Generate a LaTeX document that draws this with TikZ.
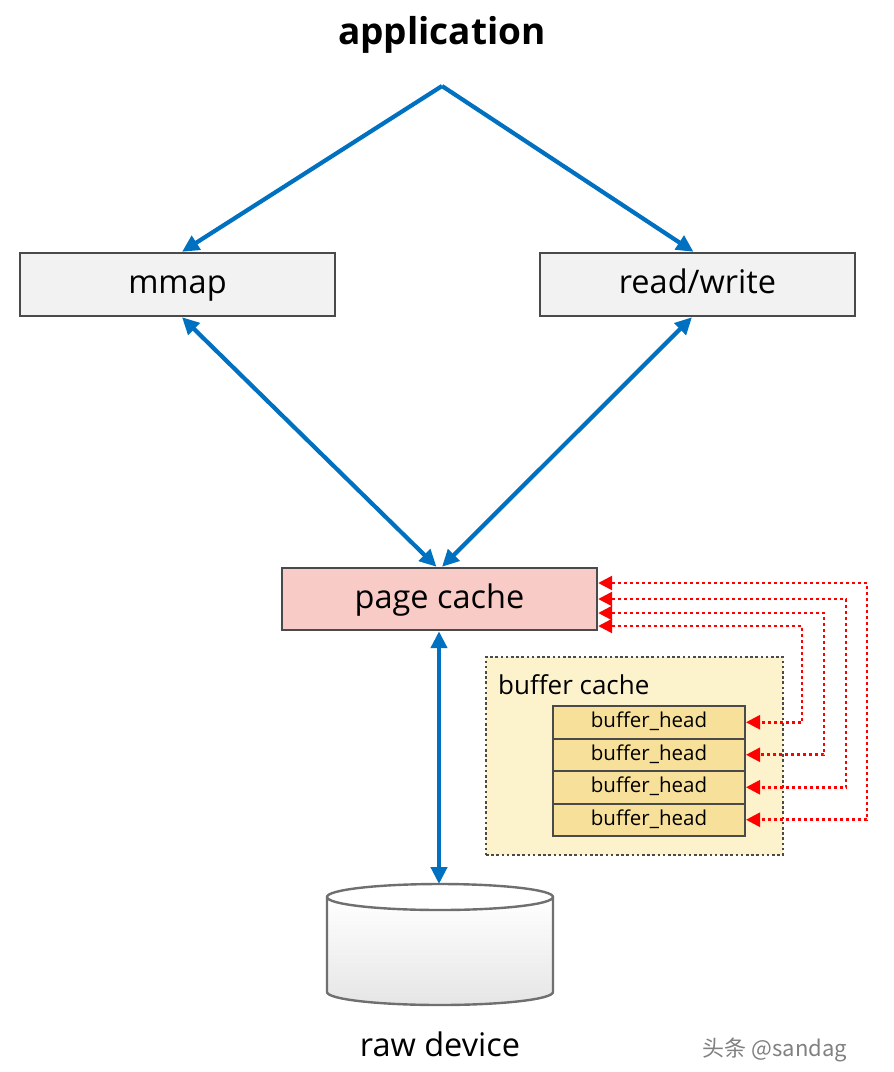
\documentclass[tikz,border=0pt]{standalone}
\usepackage{fontspec}
\setmainfont{Open Sans}
\newfontfamily\cjk{Noto Sans CJK SC}
\usetikzlibrary{arrows.meta,calc}
\definecolor{arrblue}{HTML}{0070C0}
\definecolor{boxgray}{HTML}{F2F2F2}
\definecolor{boxline}{HTML}{4A4A4A}
\definecolor{pcfill}{HTML}{F8CBC7}
\definecolor{bcfill}{HTML}{FCF2CC}
\definecolor{bhfill}{HTML}{F7E09A}
\definecolor{cylline}{HTML}{6F6F6F}
\tikzset{
  plainbox/.style={draw=boxline, line width=2.4pt, fill=boxgray, minimum width=315pt, minimum height=63pt, inner sep=0pt, font=\fontsize{32.5}{36}\selectfont, text height=24pt, text depth=6pt},
  bharrow/.style={line width=4.2pt, draw=arrblue, {Triangle[length=17pt,width=16pt]}-{Triangle[length=17pt,width=16pt]}},
  oneway/.style={line width=4.2pt, draw=arrblue, -{Triangle[length=17pt,width=16pt]}},
  headbox/.style={draw=boxline, line width=2pt, fill=bhfill, minimum width=192pt, minimum height=32.5pt, inner sep=0pt, font=\fontsize{20.5}{23}\selectfont, text height=15pt, text depth=4pt},
  redlink/.style={draw=red, line width=2.6pt, dash pattern=on 3pt off 3pt, {Triangle[length=14pt,width=14pt]}-{Triangle[length=14pt,width=14pt]}},
}
\begin{document}
\begin{tikzpicture}[x=1pt,y=-1pt]
\useasboundingbox (0,0) rectangle (894,1072);
\node[font=\bfseries\fontsize{37}{40}\selectfont] (app) at (442,35) {application};
\coordinate (apex) at (442,86);
\node[plainbox] (mmap) at (177.5,284.5) {mmap};
\node[plainbox] (rw) at (697.5,284.5) {read/write};
\node[plainbox, fill=pcfill, minimum height=62pt] (pc) at (439.5,599) {page cache};
% buffer cache
\node[draw=boxline, line width=2.6pt, dash pattern=on 2.6pt off 2.6pt, fill=bcfill, minimum width=297pt, minimum height=198pt, inner sep=0pt] (bc) at (634.5,756) {};
\node[anchor=west, font=\fontsize{26}{29}\selectfont, inner sep=0pt] (bclabel) at (498,685) {buffer cache};
\node[headbox] (bh1) at (649,722.25) {buffer\_head};
\node[headbox] (bh2) at (649,754.75) {buffer\_head};
\node[headbox] (bh3) at (649,787.25) {buffer\_head};
\node[headbox] (bh4) at (649,819.75) {buffer\_head};
% cylinder
\coordinate (cyltop) at (439,884);
\shade[top color=white, bottom color=black!10] (327,897) -- (327,992) arc[start angle=180,end angle=360,x radius=113,y radius=-13] -- (553,897) -- cycle;
\draw[cylline, line width=2.4pt] (327,897) -- (327,992) arc[start angle=180,end angle=360,x radius=113,y radius=-13] -- (553,897);
\draw[cylline, line width=2.4pt, fill=white] (440,897) ellipse[x radius=113, y radius=13];
\node[font=\fontsize{32.5}{36}\selectfont] (raw) at (440,1044) {raw device};
\node[font=\cjk\fontsize{22}{24}\selectfont, text=black!50] (wm) at (775,1050) {头条 @sandag};
% arrows
\draw[oneway] (apex) -- ([xshift=4.5pt]mmap.north);
\draw[oneway] (apex) -- ([xshift=-4pt]rw.north);
\draw[bharrow] ([xshift=4.5pt]mmap.south) -- ([xshift=-3pt]pc.north);
\draw[bharrow] ([xshift=-5.5pt]rw.south) -- ([xshift=2.5pt]pc.north);
\draw[bharrow] ([xshift=-0.5pt]pc.south) -- (cyltop);
% red links
\draw[redlink] ([yshift=-27pt]pc.east) -| (802,722.25) -- (bh1.east);
\draw[redlink] ([yshift=-14pt]pc.east) -| (824,754.75) -- (bh2.east);
\draw[redlink] ([yshift=0pt]pc.east) -| (846,787.25) -- (bh3.east);
\draw[redlink] ([yshift=16pt]pc.east) -| (867,819.75) -- (bh4.east);
\end{tikzpicture}
\end{document}
